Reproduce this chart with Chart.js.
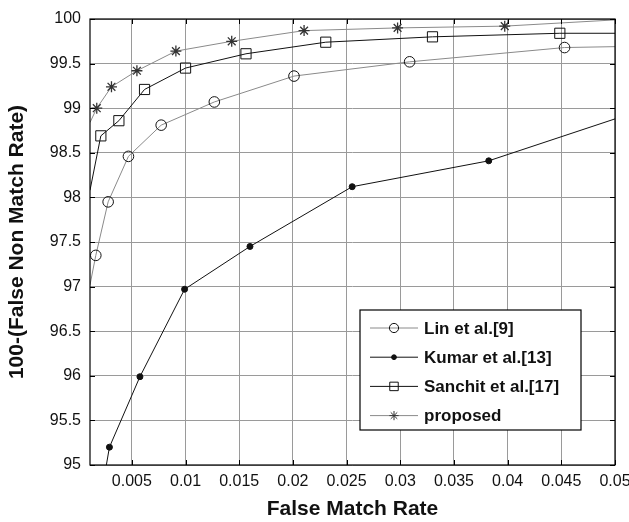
<!DOCTYPE html>
<html>
  <head>
    <title>FMR vs 100-FNMR</title>
    <script src="https://cdn.jsdelivr.net/npm/chart.js@4.4.0/dist/chart.umd.min.js"></script>
    <style>
      body { margin: 0; background: #fff; }
    </style>
  </head>
  <body>
    <canvas id="myChart" width="629" height="522"></canvas>
  </body>
  <script>
    // values
    const X_MIN = 0.0011
    const X_MAX = 0.05
    const Y_MIN = 95
    const Y_MAX = 100
    const xTickValues = [0.005, 0.01, 0.015, 0.02, 0.025, 0.03, 0.035, 0.04, 0.045, 0.05]
    const yTickValues = [95, 95.5, 96, 96.5, 97, 97.5, 98, 98.5, 99, 99.5, 100]

    const seriesNames = ['Lin et al.[9]', 'Kumar et al.[13]', 'Sanchit et al.[17]', 'proposed']

    const linX = [0.0011, 0.00164, 0.00279, 0.00468, 0.00773, 0.01268, 0.0201, 0.03087, 0.0453, 0.05]
    const linY = [97.02, 97.35, 97.95, 98.46, 98.81, 99.07, 99.36, 99.52, 99.68, 99.69]

    const kumarX = [0.00244, 0.00291, 0.00575, 0.00991, 0.016, 0.02552, 0.03824, 0.05]
    const kumarY = [94.87, 95.2, 95.99, 96.97, 97.45, 98.12, 98.41, 98.88]

    const sanchitX = [0.0011, 0.00211, 0.00379, 0.00618, 0.01, 0.01563, 0.02306, 0.033, 0.04486, 0.05]
    const sanchitY = [98.08, 98.69, 98.86, 99.21, 99.45, 99.61, 99.74, 99.8, 99.84, 99.84]

    const proposedX = [0.0011, 0.00173, 0.0031, 0.00547, 0.0091, 0.0143, 0.02104, 0.02975, 0.03973, 0.05]
    const proposedY = [98.84, 99.0, 99.24, 99.42, 99.64, 99.75, 99.87, 99.9, 99.92, 99.99]

    const FONT = "'Liberation Sans', Arial, Helvetica, sans-serif"

    const toPoints = (xs, ys) => xs.map((x, i) => ({ x: x, y: ys[i] }))

    // curve ends on the plot border carry no marker
    const markerRadius = (r) => (c) => {
      const p = c.raw
      if (!p) return r
      if (p.x <= X_MIN || p.x >= X_MAX || p.y < Y_MIN) return 0
      return r
    }

    const makeSet = (i, xs, ys, color, style, r, fill) => ({
      label: seriesNames[i],
      data: toPoints(xs, ys),
      borderColor: color,
      borderWidth: 1,
      pointStyle: style,
      pointRadius: markerRadius(r),
      pointHoverRadius: markerRadius(r),
      pointBorderColor: style === 'star' ? '#333' : '#111',
      pointBackgroundColor: fill,
      pointBorderWidth: style === 'star' ? 1.3 : 1,
      tension: 0,
      fill: false,
    })

    const datasets = [
      makeSet(0, linX, linY, '#8a8a8a', 'circle', 5.3, 'rgba(0,0,0,0)'),
      makeSet(1, kumarX, kumarY, '#111', 'circle', 3, '#111'),
      makeSet(2, sanchitX, sanchitY, '#111', 'rect', 7.2, 'rgba(0,0,0,0)'),
      makeSet(3, proposedX, proposedY, '#8a8a8a', 'star', 5.5, 'rgba(0,0,0,0)'),
    ]

    // box, inward tick marks and the legend, MATLAB style
    const frameAndLegend = {
      id: 'frameAndLegend',
      afterDraw(chart) {
        const { ctx, chartArea: { top, right, bottom, left }, scales: { x, y } } = chart
        ctx.save()
        ctx.strokeStyle = '#000'
        ctx.lineWidth = 1.2
        ctx.strokeRect(left, top, right - left, bottom - top)
        ctx.lineWidth = 1
        ctx.beginPath()
        xTickValues.forEach((v) => {
          const px = Math.round(x.getPixelForValue(v)) + 0.5
          ctx.moveTo(px, bottom); ctx.lineTo(px, bottom - 5)
          ctx.moveTo(px, top); ctx.lineTo(px, top + 5)
        })
        yTickValues.forEach((v) => {
          const py = Math.round(y.getPixelForValue(v)) + 0.5
          ctx.moveTo(left, py); ctx.lineTo(left + 5, py)
          ctx.moveTo(right, py); ctx.lineTo(right - 5, py)
        })
        ctx.stroke()

        // legend
        const bx = left + 270, by = top + 291, bw = 221, bh = 120
        ctx.fillStyle = '#fff'
        ctx.fillRect(bx, by, bw, bh)
        ctx.strokeStyle = '#000'
        ctx.lineWidth = 1.2
        ctx.strokeRect(bx, by, bw, bh)
        ctx.font = 'bold 17px ' + FONT
        ctx.textBaseline = 'middle'
        ctx.textAlign = 'left'
        chart.data.datasets.forEach((ds, i) => {
          const ly = by + 18 + i * 29.2
          ctx.strokeStyle = ds.borderColor
          ctx.lineWidth = 1
          ctx.beginPath()
          ctx.moveTo(bx + 10, ly); ctx.lineTo(bx + 58, ly)
          ctx.stroke()
          const r = ds.pointStyle === 'rect' ? 6 : (ds.pointStyle === 'circle' && i === 1 ? 2.4 : 4.6)
          ctx.strokeStyle = ds.pointBorderColor
          ctx.fillStyle = ds.pointBackgroundColor
          Chart.helpers.drawPoint(ctx, { pointStyle: ds.pointStyle, radius: r, rotation: 0, borderWidth: 1 }, bx + 34, ly)
          ctx.fillStyle = '#111'
          ctx.fillText(ds.label, bx + 64, ly + 1)
        })
        ctx.restore()
      },
    }

    const ctx = document.getElementById('myChart').getContext('2d')
    const myChart = new Chart(ctx, {
      type: 'line',
      data: { datasets: datasets },
      options: {
        responsive: false,
        animation: false,
        layout: { padding: { top: 19, right: 14, left: 0, bottom: 0 } },
        plugins: {
          legend: { display: false },
          tooltip: { enabled: false },
        },
        scales: {
          x: {
            type: 'linear',
            min: X_MIN,
            max: X_MAX,
            afterBuildTicks: (scale) => { scale.ticks = xTickValues.map((v) => ({ value: v })) },
            afterFit: (scale) => {
              scale.height = 57
              scale.paddingLeft = 0
              scale.paddingRight = 0
            },
            ticks: {
              callback: (v) => String(v),
              color: '#111',
              font: { family: FONT, size: 16 },
              padding: 7,
              maxRotation: 0,
              autoSkip: false,
            },
            grid: { color: '#9a9a9a', lineWidth: 1, drawTicks: false },
            border: { display: false },
            title: {
              display: true,
              text: 'False Match Rate',
              color: '#111',
              font: { family: FONT, size: 21, weight: 'bold' },
              padding: { top: 13, bottom: 0 },
            },
          },
          y: {
            min: Y_MIN,
            max: Y_MAX,
            afterBuildTicks: (scale) => { scale.ticks = yTickValues.map((v) => ({ value: v })) },
            afterFit: (scale) => {
              scale.width = 90
              scale.paddingTop = 0
              scale.paddingBottom = 0
            },
            ticks: {
              callback: (v) => String(v),
              color: '#111',
              font: { family: FONT, size: 16 },
              padding: 9,
            },
            grid: { color: '#9a9a9a', lineWidth: 1, drawTicks: false },
            border: { display: false },
            title: {
              display: true,
              text: '100-(False Non Match Rate)',
              color: '#111',
              font: { family: FONT, size: 21, weight: 'bold' },
              padding: { top: 5, bottom: 0 },
            },
          },
        },
      },
      plugins: [frameAndLegend],
    })
  </script>
</html>
